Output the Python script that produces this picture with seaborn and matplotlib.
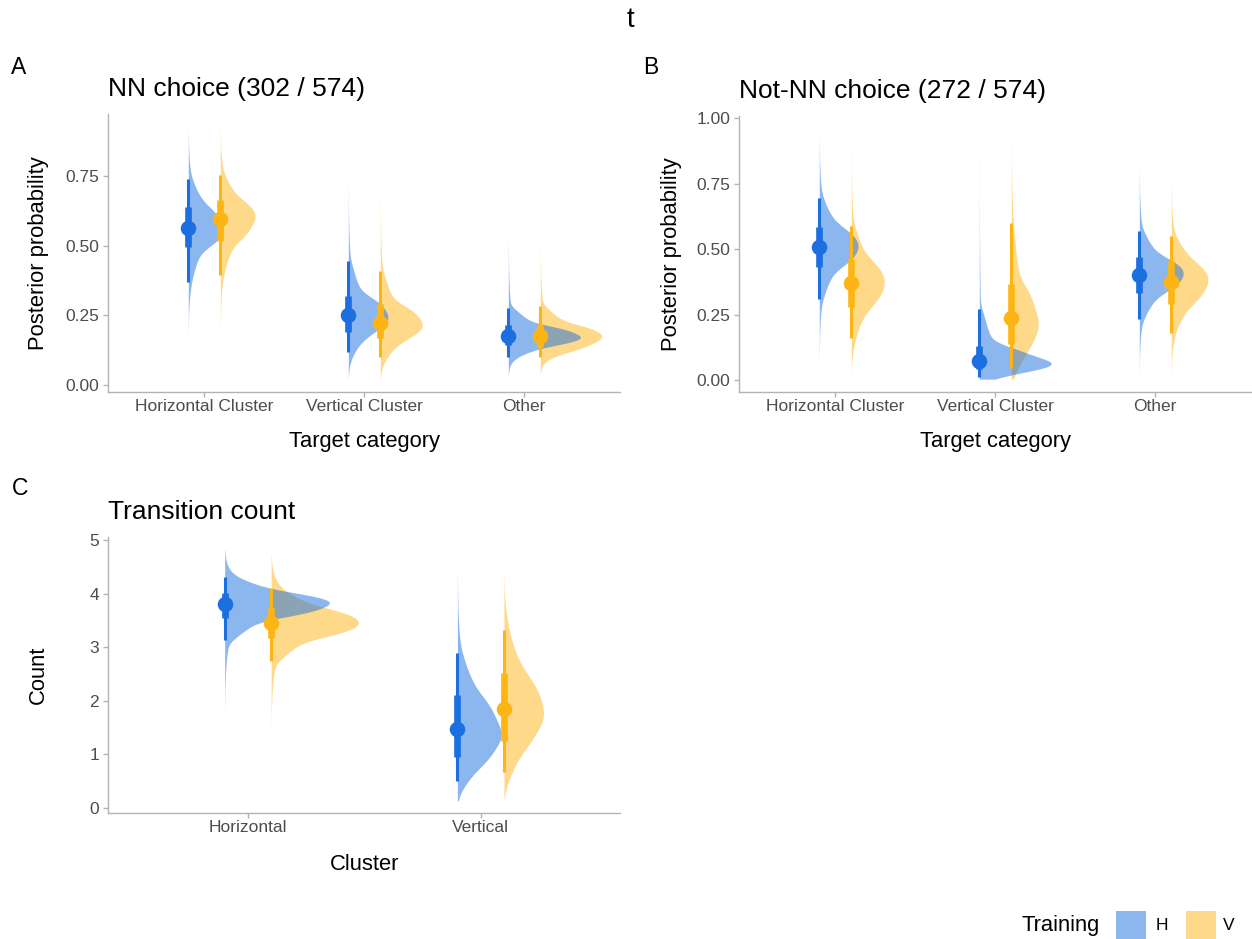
import numpy as np
import matplotlib
matplotlib.use("Agg")
import matplotlib.pyplot as plt
import matplotlib.transforms as mtransforms
from matplotlib.patches import Rectangle
from matplotlib.ticker import MultipleLocator, FormatStrFormatter
import seaborn as sns

# posterior summaries
# each row: min, 2.5%, 17%, 50%, 83%, 97.5%, max
training = ["H", "V"]

nn_categories = ["Horizontal Cluster", "Vertical Cluster", "Other"]
nn_H = [[0.182, 0.369, 0.494, 0.565, 0.640, 0.738, 0.926],
        [0.027, 0.117, 0.190, 0.251, 0.319, 0.444, 0.748],
        [0.039, 0.102, 0.143, 0.176, 0.214, 0.277, 0.530]]
nn_V = [[0.180, 0.393, 0.515, 0.595, 0.664, 0.754, 0.920],
        [0.021, 0.099, 0.167, 0.224, 0.289, 0.408, 0.700],
        [0.039, 0.099, 0.135, 0.176, 0.218, 0.283, 0.525]]

notnn_categories = ["Horizontal Cluster", "Vertical Cluster", "Other"]
notnn_H = [[0.060, 0.308, 0.431, 0.509, 0.585, 0.696, 0.938],
           [0.003, 0.011, 0.042, 0.073, 0.130, 0.272, 0.900],
           [0.022, 0.232, 0.333, 0.403, 0.469, 0.571, 0.823]]
notnn_V = [[0.015, 0.161, 0.279, 0.371, 0.461, 0.588, 0.887],
           [0.004, 0.047, 0.136, 0.238, 0.365, 0.600, 0.962],
           [0.010, 0.181, 0.289, 0.375, 0.454, 0.550, 0.760]]

count_categories = ["Horizontal", "Vertical"]
count_H = [[1.84, 3.13, 3.55, 3.80, 4.02, 4.31, 4.83],
           [0.13, 0.50, 0.95, 1.48, 2.11, 2.90, 4.42]]
count_V = [[1.50, 2.74, 3.18, 3.46, 3.74, 4.11, 4.73],
           [0.17, 0.66, 1.25, 1.85, 2.51, 3.33, 4.42]]

# style
sns.set_theme(style="white")
plt.rcParams["font.family"] = ["Liberation Sans", "DejaVu Sans"]
plt.rcParams["text.color"] = "black"
plt.rcParams["axes.labelcolor"] = "black"
plt.rcParams["axes.titlecolor"] = "black"
colors = {"H": "#1b6fde", "V": "#fdb515"}
offsets = {"H": -0.1, "V": 0.1}
TICK_GREY = "#4d4d4d"
SPINE_GREY = "#b3b3b3"

# normal scores of the quantile levels, used to rebuild draws for the kde
Z_KNOTS = [-3.5, -1.96, -0.954, 0.0, 0.954, 1.96, 3.5]
z_grid = np.linspace(-3.5, 3.5, 601)
z_weight = np.exp(-0.5 * z_grid ** 2)

W, H = 1252, 939
fig = plt.figure(figsize=(W / 100, H / 100), dpi=100)


def px_axes(left, top, right, bottom):
    return fig.add_axes([left / W, 1 - bottom / H, (right - left) / W, (bottom - top) / H])


def halfeye(ax, categories, groups, title, xlabel, ylabel, step, fmt):
    slabs = []
    # V slabs first, H on top of them (gives the grey overlap)
    for train in ["V", "H"]:
        for i, q in enumerate(groups[train]):
            draws = np.interp(z_grid, Z_KNOTS, q)
            sns.kdeplot(y=draws, weights=z_weight, fill=True, cut=0, bw_adjust=0.8,
                        color=colors[train], alpha=0.5, linewidth=0, ax=ax, zorder=1)
            coll = ax.collections[-1]
            peak = coll.get_paths()[0].vertices[:, 0].max()
            slabs.append((coll, i + offsets[train], peak))
    # thickness normalised over the whole panel, max = 0.45 of a category
    top = max(p for _, _, p in slabs)
    for coll, pos, _ in slabs:
        coll.set_transform(mtransforms.Affine2D().scale(0.45 / top, 1).translate(pos, 0)
                           + ax.transData)

    # point + 66% / 95% intervals
    for train in ["V", "H"]:
        c = colors[train]
        for i, q in enumerate(groups[train]):
            x = i + offsets[train]
            ax.vlines(x, q[1], q[5], color=c, lw=2.2, zorder=3)
            ax.vlines(x, q[2], q[4], color=c, lw=4.8, zorder=3)
            ax.scatter([x], [q[3]], s=125, color=c, linewidths=0, zorder=4)

    allq = np.array(groups["H"] + groups["V"])
    lo, hi = allq.min(), allq.max()
    r = hi - lo
    ax.set_ylim(lo - 0.05 * r, hi + 0.05 * r)
    ax.set_xlim(-0.6, len(categories) - 0.4)
    ax.set_xticks(range(len(categories)), categories)
    ax.yaxis.set_major_locator(MultipleLocator(step))
    ax.yaxis.set_major_formatter(FormatStrFormatter(fmt))

    sns.despine(ax=ax)
    for s in ["left", "bottom"]:
        ax.spines[s].set_color(SPINE_GREY)
        ax.spines[s].set_linewidth(1.0)
    ax.tick_params(axis="both", colors=SPINE_GREY, labelcolor=TICK_GREY,
                   labelsize=12.5, length=3.6, width=1.0, left=True, bottom=True)
    ax.tick_params(axis="x", pad=1.5)
    ax.tick_params(axis="y", pad=3)

    ax.set_title(title, loc="left", fontsize=19, pad=13, color="black")
    ax.set_xlabel(xlabel, fontsize=15.8, color="black")
    ax.set_ylabel(ylabel, fontsize=15.8, color="black")
    ax.xaxis.label.set_va("center")
    ax.yaxis.label.set_va("center")
    ax.grid(False)


ax_a = px_axes(108.3, 114.3, 620.3, 391.7)
ax_b = px_axes(739.3, 115.7, 1251.3, 391.7)
ax_c = px_axes(108.3, 536.7, 620.3, 813.3)

halfeye(ax_a, nn_categories, {"H": nn_H, "V": nn_V}, "NN choice (302 / 574)",
        "Target category", "Posterior probability", 0.25, "%.2f")
halfeye(ax_b, notnn_categories, {"H": notnn_H, "V": notnn_V}, "Not-NN choice (272 / 574)",
        "Target category", "Posterior probability", 0.25, "%.2f")
halfeye(ax_c, count_categories, {"H": count_H, "V": count_V}, "Transition count",
        "Cluster", "Count", 1, "%d")

ax_a.xaxis.set_label_coords(0.5, (391.7 - 442) / 277.4)
ax_a.yaxis.set_label_coords((38 - 108.3) / 512, 0.5)
ax_b.xaxis.set_label_coords(0.5, (391.7 - 442) / 276)
ax_b.yaxis.set_label_coords((671 - 739.3) / 512, 0.5)
ax_c.xaxis.set_label_coords(0.5, (813.3 - 864) / 276.6)
ax_c.yaxis.set_label_coords((38 - 108.3) / 512, 0.5)

# panel tags and overall title
fig.text(630 / W, 1 - 20 / H, "t", ha="center", va="center", fontsize=20)
fig.text(19 / W, 1 - 68 / H, "A", ha="center", va="center", fontsize=16.5)
fig.text(651 / W, 1 - 67 / H, "B", ha="center", va="center", fontsize=16.5)
fig.text(20 / W, 1 - 488 / H, "C", ha="center", va="center", fontsize=16.5)

# legend
fig.text(1022 / W, 1 - 926 / H, "Training", ha="left", va="center", fontsize=15.8)
for train, x0, tx in [("H", 1116, 1156), ("V", 1186, 1223)]:
    fig.add_artist(Rectangle((x0 / W, 1 - 940 / H), 29.5 / W, 29.5 / H,
                             transform=fig.transFigure, facecolor=colors[train],
                             alpha=0.5, linewidth=0))
    fig.text(tx / W, 1 - 926 / H, train, ha="left", va="center", fontsize=12.5)

fig.savefig("out.png", dpi=100, facecolor="white")
